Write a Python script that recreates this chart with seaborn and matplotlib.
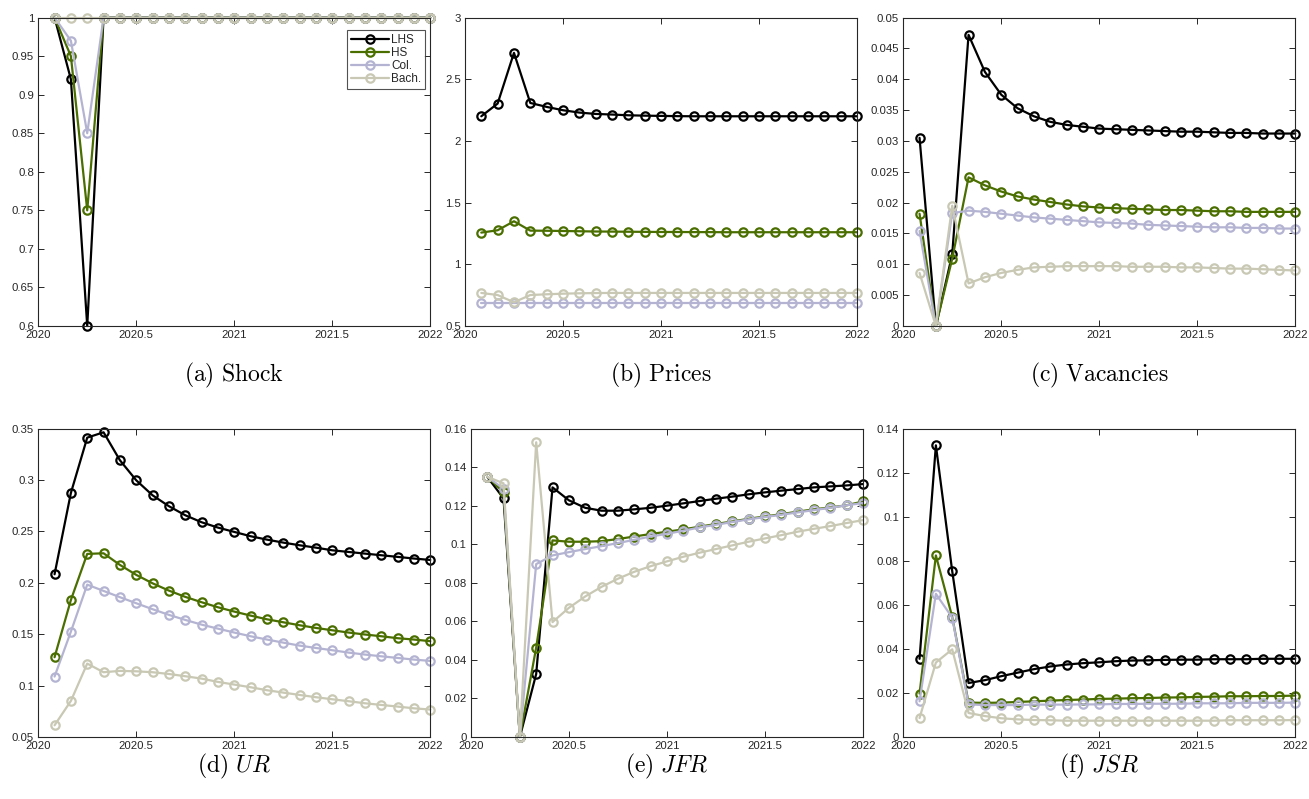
import numpy as np
import pandas as pd
import matplotlib
matplotlib.use("Agg")
import matplotlib.pyplot as plt
from matplotlib.ticker import FormatStrFormatter, MultipleLocator
import seaborn as sns

# Monthly dates, Feb 2020 .. Jan 2022 expressed as fractional years
months = 2020 + np.arange(1, 25) / 12.0

groups = ["LHS", "HS", "Col.", "Bach."]
colors = {"LHS": "#000000", "HS": "#4a6e00", "Col.": "#b4b4d2", "Bach.": "#c8c8b4"}

# (a) Shock
shock_lhs = [1, 0.92, 0.60] + [1.0] * 21
shock_hs = [1, 0.95, 0.75] + [1.0] * 21
shock_col = [1, 0.97, 0.85] + [1.0] * 21
shock_bach = [1.0] * 24

# (b) Prices
price_lhs = [2.200, 2.303, 2.714, 2.308, 2.276, 2.249, 2.230, 2.219, 2.214, 2.208, 2.205, 2.203,
             2.201, 2.200, 2.200, 2.200, 2.200, 2.200, 2.200, 2.200, 2.200, 2.200, 2.200, 2.200]
price_hs = [1.257, 1.276, 1.349, 1.273, 1.272, 1.270, 1.268, 1.266, 1.265, 1.264, 1.263, 1.262,
            1.262, 1.261, 1.261, 1.260, 1.260, 1.260, 1.260, 1.260, 1.260, 1.260, 1.260, 1.260]
price_col = [0.686] * 24
price_bach = [0.768, 0.751, 0.692, 0.751, 0.757, 0.762, 0.765, 0.767, 0.768, 0.768, 0.768, 0.768,
              0.768, 0.768, 0.768, 0.768, 0.768, 0.768, 0.768, 0.768, 0.768, 0.768, 0.768, 0.768]

# (c) Vacancies
vac_lhs = [0.0305, 0.0, 0.0116, 0.0472, 0.0412, 0.0375, 0.0353, 0.0340, 0.0331, 0.0326, 0.0323, 0.0320,
           0.0319, 0.0318, 0.0317, 0.0316, 0.0315, 0.0315, 0.0314, 0.0313, 0.0313, 0.0312, 0.0312, 0.0312]
vac_hs = [0.0182, 0.0, 0.0109, 0.0241, 0.0228, 0.0218, 0.0210, 0.0205, 0.0201, 0.0197, 0.0194, 0.0192,
          0.0191, 0.0190, 0.0189, 0.0188, 0.0188, 0.0187, 0.0186, 0.0186, 0.0185, 0.0185, 0.0185, 0.0185]
vac_col = [0.0154, 0.0, 0.0183, 0.0187, 0.0185, 0.0182, 0.0179, 0.0176, 0.0174, 0.0172, 0.0170, 0.0168,
           0.0167, 0.0166, 0.0164, 0.0163, 0.0162, 0.0161, 0.0160, 0.0160, 0.0159, 0.0159, 0.0158, 0.0158]
vac_bach = [0.0086, 0.0, 0.0195, 0.0069, 0.0079, 0.0086, 0.0091, 0.0095, 0.0096, 0.0097, 0.0097, 0.0097,
            0.0097, 0.0096, 0.0096, 0.0096, 0.0095, 0.0095, 0.0094, 0.0093, 0.0093, 0.0092, 0.0091, 0.0090]

# (d) Unemployment rate
ur_lhs = [0.2083, 0.2874, 0.3412, 0.3464, 0.3192, 0.2997, 0.2851, 0.2745, 0.2657, 0.2589, 0.2537, 0.2495,
          0.2453, 0.2420, 0.2391, 0.2365, 0.2342, 0.2316, 0.2300, 0.2284, 0.2268, 0.2252, 0.2236, 0.2222]
ur_hs = [0.1276, 0.1833, 0.2281, 0.2287, 0.2174, 0.2077, 0.1995, 0.1924, 0.1863, 0.1811, 0.1762, 0.1720,
         0.1681, 0.1645, 0.1616, 0.1587, 0.1561, 0.1538, 0.1516, 0.1497, 0.1480, 0.1461, 0.1448, 0.1432]
ur_col = [0.1088, 0.1525, 0.1982, 0.1921, 0.1860, 0.1801, 0.1743, 0.1688, 0.1639, 0.1593, 0.1554, 0.1516,
          0.1480, 0.1448, 0.1418, 0.1389, 0.1366, 0.1344, 0.1321, 0.1302, 0.1285, 0.1269, 0.1253, 0.1240]
ur_bach = [0.0614, 0.0851, 0.1214, 0.1130, 0.1143, 0.1139, 0.1130, 0.1113, 0.1091, 0.1068, 0.1036, 0.1010,
           0.0984, 0.0955, 0.0932, 0.0909, 0.0887, 0.0867, 0.0848, 0.0828, 0.0812, 0.0796, 0.0779, 0.0767]

# (e) Job finding rate
jfr_lhs = [0.1350, 0.1238, 0.0, 0.0327, 0.1295, 0.1228, 0.1189, 0.1174, 0.1174, 0.1181, 0.1189, 0.1200,
           0.1212, 0.1224, 0.1236, 0.1247, 0.1259, 0.1269, 0.1278, 0.1286, 0.1295, 0.1300, 0.1305, 0.1312]
jfr_hs = [0.1350, 0.1270, 0.0, 0.0464, 0.1020, 0.1013, 0.1013, 0.1016, 0.1027, 0.1040, 0.1053, 0.1065,
          0.1077, 0.1091, 0.1105, 0.1118, 0.1132, 0.1144, 0.1156, 0.1169, 0.1181, 0.1191, 0.1202, 0.1222]
jfr_col = [0.1350, 0.1288, 0.0, 0.0897, 0.0942, 0.0959, 0.0975, 0.0990, 0.1006, 0.1023, 0.1040, 0.1054,
           0.1070, 0.1087, 0.1101, 0.1115, 0.1129, 0.1141, 0.1153, 0.1165, 0.1177, 0.1189, 0.1202, 0.1214]
jfr_bach = [0.1350, 0.1316, 0.0, 0.1529, 0.0596, 0.0670, 0.0729, 0.0779, 0.0821, 0.0857, 0.0886, 0.0911,
            0.0935, 0.0956, 0.0975, 0.0994, 0.1013, 0.1030, 0.1047, 0.1065, 0.1080, 0.1094, 0.1110, 0.1125]

# (f) Job separation rate
jsr_lhs = [0.0355, 0.1324, 0.0753, 0.0245, 0.0258, 0.0276, 0.0292, 0.0308, 0.0320, 0.0329, 0.0335, 0.0339,
           0.0344, 0.0347, 0.0348, 0.0350, 0.0351, 0.0351, 0.0353, 0.0353, 0.0353, 0.0355, 0.0355, 0.0355]
jsr_hs = [0.0197, 0.0824, 0.0545, 0.0156, 0.0155, 0.0156, 0.0159, 0.0162, 0.0165, 0.0168, 0.0170, 0.0173,
          0.0174, 0.0176, 0.0177, 0.0179, 0.0180, 0.0182, 0.0183, 0.0185, 0.0185, 0.0186, 0.0186, 0.0188]
jsr_col = [0.0162, 0.0650, 0.0542, 0.0148, 0.0145, 0.0145, 0.0145, 0.0147, 0.0147, 0.0147, 0.0148, 0.0148,
           0.0150, 0.0150, 0.0151, 0.0151, 0.0151, 0.0153, 0.0153, 0.0153, 0.0155, 0.0155, 0.0155, 0.0156]
jsr_bach = [0.0086, 0.0338, 0.0398, 0.0109, 0.0095, 0.0085, 0.0080, 0.0077, 0.0076, 0.0074, 0.0074, 0.0074,
            0.0074, 0.0074, 0.0074, 0.0074, 0.0074, 0.0074, 0.0074, 0.0076, 0.0076, 0.0076, 0.0076, 0.0077]

panels = [
    (r"$\mathrm{(a)\ Shock}$", [shock_lhs, shock_hs, shock_col, shock_bach], (0.6, 1.0), 0.05),
    (r"$\mathrm{(b)\ Prices}$", [price_lhs, price_hs, price_col, price_bach], (0.5, 3.0), 0.5),
    (r"$\mathrm{(c)\ Vacancies}$", [vac_lhs, vac_hs, vac_col, vac_bach], (0.0, 0.05), 0.005),
    (r"$\mathrm{(d)}\ UR$", [ur_lhs, ur_hs, ur_col, ur_bach], (0.05, 0.35), 0.05),
    (r"$\mathrm{(e)}\ JFR$", [jfr_lhs, jfr_hs, jfr_col, jfr_bach], (0.0, 0.16), 0.02),
    (r"$\mathrm{(f)}\ JSR$", [jsr_lhs, jsr_hs, jsr_col, jsr_bach], (0.0, 0.14), 0.02),
]

sns.set_style("ticks")
plt.rcParams["font.family"] = ["Liberation Sans", "DejaVu Sans"]
plt.rcParams["mathtext.fontset"] = "cm"

fig = plt.figure(figsize=(13.09, 7.99), dpi=100)

lefts = [0.0292, 0.3552, 0.6900]
bottoms = [0.592, 0.0776]
title_y = [0.5307, 0.0405]
width, height = 0.2995, 0.386
edge = "#262626"

for i, (title, series, ylim, ystep) in enumerate(panels):
    row, col = divmod(i, 3)
    left = lefts[col] + (0.0045 if (row == 1 and col == 1) else 0)
    ax = fig.add_axes([left, bottoms[row], width, height])
    for name, vals in zip(groups, series):
        df = pd.DataFrame({"t": months, "v": vals})
        sns.lineplot(data=df, x="t", y="v", ax=ax, color=colors[name], label=name,
                     marker="o", markersize=6.0, markerfacecolor="none",
                     markeredgecolor=colors[name], markeredgewidth=1.6,
                     linewidth=1.6, clip_on=False, legend=(i == 0))
    ax.set_xlim(2020, 2022)
    ax.set_ylim(*ylim)
    ax.xaxis.set_major_locator(MultipleLocator(0.5))
    ax.yaxis.set_major_locator(MultipleLocator(ystep))
    ax.xaxis.set_major_formatter(FormatStrFormatter("%g"))
    ax.yaxis.set_major_formatter(plt.FuncFormatter(lambda v, p: "%g" % round(v, 6)))
    ax.set_xlabel("")
    ax.set_ylabel("")
    ax.tick_params(direction="in", top=True, right=True, length=4, width=0.7,
                   labelsize=8.2, colors=edge, labelcolor=edge, pad=3)
    for s in ax.spines.values():
        s.set_color(edge)
        s.set_linewidth(0.8)
    fig.text(left + width / 2, title_y[row], title, ha="center", va="center",
             fontsize=17, color="black")
    if i == 0:
        leg = ax.legend(loc="upper right", bbox_to_anchor=(0.995, 0.97), fontsize=8.5,
                        frameon=True, fancybox=False, edgecolor="#262626",
                        handlelength=3.2, handletextpad=0.2, borderpad=0.3,
                        labelspacing=0.1, borderaxespad=0.3)
        leg.get_frame().set_linewidth(0.8)

fig.savefig("out.png", dpi=100)
